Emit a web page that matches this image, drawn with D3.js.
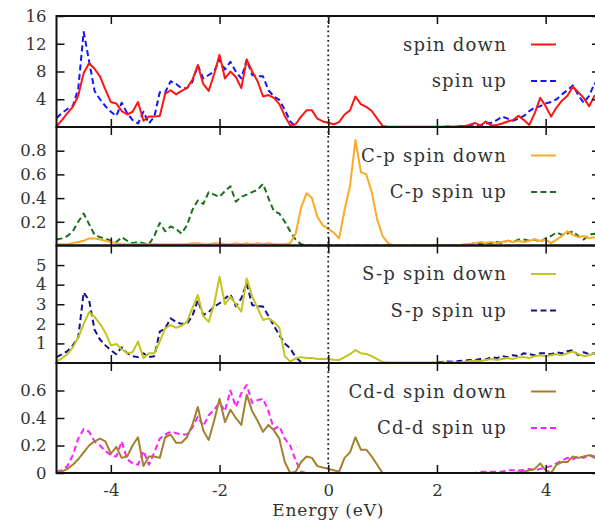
<!DOCTYPE html>
<html>
<head>
<meta charset="utf-8">
<script src="https://cdn.jsdelivr.net/npm/d3@7"></script>
<style>
  body { margin: 0; background: #fff; }
  svg text { font-family: "DejaVu Serif", serif; fill: #333; }
  .legend text { letter-spacing: 1.2px; }
</style>
</head>
<body>
<svg id="chart" width="595" height="524"></svg>
<script>
// energy grid (eV), 0.1 eV step
var energy = d3.range(-50, 51).map(function(i) { return i / 10; });
var xTicks = [-4, -2, 0, 2, 4];

// total DOS
var totDown = [0.1,1.0,2.0,2.9,4.5,7.8,9.2,8.4,7.3,5.4,
  3.6,3.4,2.3,1.8,2.2,3.6,0.9,1.5,1.5,1.6,
  4.8,5.3,4.7,5.2,5.6,6.8,8.9,6.2,5.2,7.6,
  10.4,7.0,8.0,7.2,5.6,9.7,8.0,6.6,4.4,4.6,
  4.2,3.3,1.6,0.2,0.4,1.5,2.4,2.4,1.2,0.8,
  0.6,0.4,0.7,1.8,2.4,4.4,3.3,2.9,2.3,1.2,
  0.15,0.05,0.05,0.05,0.05,0.05,0.05,0.05,0.05,0.05,
  0.05,0.05,0.1,0.05,0.1,0.1,0.3,0.6,0.2,0.8,
  0.2,0.3,0.5,0.8,1.0,1.6,1.0,0.3,2.0,4.2,
  3.0,1.5,2.8,3.8,4.5,5.8,5.0,4.2,3.0,4.5,
  4.0];
var totUp = [1.3,2.0,2.6,3.0,5.5,13.7,9.5,5.2,4.0,3.0,
  2.2,1.6,3.5,2.0,1.0,0.5,2.2,0.5,1.5,5.0,
  5.0,6.6,6.2,5.6,5.6,6.5,8.9,7.0,7.5,8.0,
  9.7,8.3,9.4,8.0,7.0,9.7,7.5,7.3,7.3,5.3,
  4.4,3.9,2.5,0.8,0.1,0,0,0,0,0,
  0,0,0,0,0,0,0,0,0,0,
  0,0,0,0,0,0,0,0,0,0,
  0,0,0,0,0.1,0.1,0.3,0.4,0.2,0.5,
  0.6,1.0,1.5,1.2,0.9,1.2,1.6,2.3,2.8,3.0,
  3.4,3.6,4.0,4.7,5.3,6.0,4.6,3.5,4.5,6.3,
  5.5];

// C-p
var cpDown = [0.01,0.01,0.01,0.02,0.03,0.04,0.06,0.06,0.05,0.04,
  0.03,0.02,0.01,0.01,0.01,0.01,0.01,0.01,0.01,0.01,
  0.01,0.01,0.01,0.01,0.01,0.02,0.02,0.01,0.01,0.02,
  0.02,0.01,0.01,0.02,0.01,0.02,0.01,0.02,0.01,0.02,
  0.01,0.01,0.01,0.02,0.1,0.32,0.44,0.4,0.24,0.17,
  0.14,0.11,0.06,0.3,0.5,0.89,0.62,0.6,0.45,0.22,
  0.08,0.02,0,0,0,0,0,0,0,0,
  0,0,0,0,0,0.01,0.01,0.02,0.03,0.02,
  0.03,0.02,0.03,0.04,0.03,0.04,0.03,0.04,0.05,0.04,
  0.05,0.02,0.05,0.08,0.12,0.09,0.07,0.08,0.06,0.07,
  0.06];
var cpUp = [0.05,0.06,0.08,0.12,0.2,0.27,0.18,0.09,0.07,0.06,
  0.04,0.03,0.07,0.04,0.02,0.03,0.02,0.01,0.08,0.19,
  0.12,0.16,0.14,0.1,0.17,0.3,0.38,0.35,0.45,0.43,
  0.41,0.46,0.5,0.37,0.41,0.43,0.45,0.47,0.52,0.4,
  0.29,0.27,0.2,0.12,0.05,0.01,0,0,0,0,
  0,0,0,0,0,0,0,0,0,0,
  0,0,0,0,0,0,0,0,0,0,
  0,0,0,0,0,0,0.01,0.02,0.01,0.02,
  0.02,0.03,0.02,0.04,0.03,0.05,0.05,0.04,0.05,0.03,
  0.06,0.08,0.11,0.09,0.1,0.12,0.08,0.05,0.09,0.1,
  0.08];

// S-p
var spDown = [0.07,0.25,0.45,0.8,1.3,2.0,2.6,2.35,2.0,1.55,
  0.9,0.97,0.7,0.5,0.55,1.09,0.24,0.5,0.5,1.1,
  1.77,1.94,1.8,1.9,2.1,2.8,3.47,2.4,2.1,3.0,
  4.4,3.0,3.39,3.0,2.62,4.32,3.4,2.8,2.2,2.28,
  2.1,1.8,0.35,0.07,0.24,0.3,0.25,0.25,0.2,0.2,
  0.2,0.17,0.15,0.3,0.45,0.66,0.5,0.46,0.35,0.2,
  0.05,0.02,0.02,0.02,0.02,0.02,0.02,0.02,0.02,0.02,
  0.02,0.02,0.02,0.02,0.02,0.05,0.1,0.12,0.1,0.15,
  0.2,0.15,0.2,0.25,0.2,0.3,0.3,0.25,0.35,0.4,
  0.35,0.4,0.45,0.4,0.5,0.58,0.45,0.35,0.4,0.5,
  0.45];
var spUp = [0.3,0.45,0.6,0.9,1.3,3.6,3.2,1.7,1.2,0.9,
  0.65,0.45,0.8,0.5,0.35,0.3,0.5,0.3,0.35,1.6,
  1.77,2.28,2.1,2.0,2.0,2.4,3.2,2.45,2.6,2.88,
  3.05,3.3,3.5,2.9,3.3,4.07,2.96,2.9,2.88,2.4,
  1.9,1.43,1.0,0.75,0.3,0.05,0,0,0,0,
  0,0,0,0,0,0,0,0,0,0,
  0,0,0,0,0,0,0,0,0,0,
  0.05,0.06,0.08,0.06,0.1,0.12,0.15,0.15,0.2,0.18,
  0.3,0.25,0.35,0.3,0.4,0.35,0.5,0.45,0.4,0.5,
  0.5,0.45,0.55,0.5,0.6,0.66,0.4,0.55,0.45,0.5,
  0.4];

// Cd-d
var cddDown = [0,0.01,0.03,0.06,0.1,0.15,0.2,0.23,0.25,0.23,
  0.14,0.19,0.11,0.12,0.2,0.26,0.05,0.12,0.12,0.11,
  0.26,0.28,0.22,0.22,0.26,0.35,0.48,0.31,0.24,0.38,
  0.54,0.37,0.46,0.4,0.35,0.57,0.45,0.38,0.3,0.35,
  0.31,0.25,0.08,0,0.01,0.08,0.12,0.11,0.05,0.04,
  0.03,0.02,0.01,0.11,0.15,0.26,0.17,0.17,0.12,0.06,
  0,0,0,0,0,0,0,0,0,0,
  0,0,0,0,0,0,0,0,0,0,
  0,0,0,0,0,0.005,0.01,0.02,0.03,0.07,
  0.02,0,0.06,0.08,0.08,0.12,0.11,0.12,0.13,0.11,
  0.1];
var cddUp = [0.01,0.02,0.05,0.13,0.25,0.32,0.3,0.23,0.2,0.16,
  0.13,0.12,0.23,0.1,0.07,0.06,0.16,0.06,0.15,0.25,
  0.28,0.3,0.29,0.28,0.28,0.33,0.41,0.34,0.42,0.46,
  0.51,0.45,0.6,0.48,0.58,0.64,0.51,0.53,0.54,0.45,
  0.32,0.34,0.25,0.2,0.09,0.01,0,0,0,0,
  0,0,0,0,0,0,0,0,0,0,
  0,0,0,0,0,0,0,0,0,0,
  0,0,0,0,0,0,0,0,0.01,0.01,
  0.01,0.01,0.01,0.02,0.02,0.02,0.02,0.03,0.02,0.03,
  0.04,0.05,0.07,0.09,0.11,0.1,0.12,0.11,0.13,0.12,
  0.11];

var yTicksTot = [4, 8, 12, 16],
    yTicksCp = [0.2, 0.4, 0.6, 0.8],
    yTicksSp = [1, 2, 3, 4, 5],
    yTicksCd = [0, 0.2, 0.4, 0.6];

// plain hyphen minus like the original, not the unicode minus of d3.format
var plain = function(d) { return String(d); };
var serif = '"DejaVu Serif", serif';

var panels = [
  {top: 16, bottom: 127, max: 16, ticks: yTicksTot, series: [
    {label: 'spin down', values: totDown, color: '#ff1414', dash: null},
    {label: 'spin up', values: totUp, color: '#1414ff', dash: '6,3.5'}]},
  {top: 127, bottom: 245.5, max: 1, ticks: yTicksCp, series: [
    {label: 'C-p spin down', values: cpDown, color: '#fbaa26', dash: null},
    {label: 'C-p spin up', values: cpUp, color: '#17701a', dash: '6,3.5'}]},
  {top: 245.5, bottom: 363, max: 6, ticks: yTicksSp, series: [
    {label: 'S-p spin down', values: spDown, color: '#c4c41e', dash: null},
    {label: 'S-p spin up', values: spUp, color: '#12128c', dash: '6,3.5'}]},
  {top: 363, bottom: 473, max: 0.8, ticks: yTicksCd, series: [
    {label: 'Cd-d spin down', values: cddDown, color: '#a2802c', dash: null},
    {label: 'Cd-d spin up', values: cddUp, color: '#ff1cff', dash: '6,3.5'}]}
];

var svg = d3.select('#chart'),
    left = 56.5,
    right = 600,
    tickLen = 8;

var x = d3.scaleLinear().domain([-5, 5]).range([left, right]);

panels.forEach(function(p, k) {
  var y = d3.scaleLinear().domain([0, p.max]).range([p.bottom, p.top]);
  var g = svg.append('g');

  g.append('clipPath').attr('id', 'clip' + k)
    .append('rect')
    .attr('x', left).attr('y', p.top)
    .attr('width', right - left).attr('height', p.bottom - p.top);

  var line = d3.line()
    .x(function(d, i) { return x(energy[i]); })
    .y(function(d) { return y(d); });

  // spin up first so the solid spin down sits on top
  p.series.slice().reverse().forEach(function(s) {
    g.append('path')
      .datum(s.values)
      .attr('clip-path', 'url(#clip' + k + ')')
      .attr('fill', 'none')
      .attr('stroke', s.color)
      .attr('stroke-width', 2)
      .attr('stroke-linejoin', 'round')
      .attr('stroke-dasharray', s.dash)
      .attr('d', line);
  });

  // axes, ticks pointing inward
  var axL = g.append('g').attr('transform', 'translate(' + left + ',0)')
    .call(d3.axisLeft(y).tickValues(p.ticks).tickSize(-tickLen).tickPadding(10).tickFormat(plain));
  var axR = g.append('g').attr('transform', 'translate(' + right + ',0)')
    .call(d3.axisRight(y).tickValues(p.ticks).tickSize(-tickLen).tickFormat(''));
  var axT = g.append('g').attr('transform', 'translate(0,' + p.top + ')')
    .call(d3.axisTop(x).tickValues(xTicks).tickSize(-tickLen).tickFormat(''));
  var axB = g.append('g').attr('transform', 'translate(0,' + p.bottom + ')')
    .call(d3.axisBottom(x).tickValues(xTicks).tickSize(-tickLen).tickPadding(11)
      .tickFormat(k === panels.length - 1 ? plain : ''));

  [axL, axR, axT, axB].forEach(function(a) {
    a.attr('font-family', null);
    a.select('.domain').remove();
    a.selectAll('line').attr('stroke', '#111').attr('stroke-width', 1.5);
    a.selectAll('text').attr('fill', '#333')
      .style('font-family', serif)
      .style('font-size', '16.5px');
  });

  g.append('rect')
    .attr('x', left).attr('y', p.top)
    .attr('width', right - left).attr('height', p.bottom - p.top)
    .attr('fill', 'none').attr('stroke', '#111').attr('stroke-width', 2);

  // legend
  var lg = g.append('g').attr('class', 'legend');
  p.series.forEach(function(s, j) {
    var ly = p.top + 28.5 + j * 36.5;
    lg.append('text')
      .attr('x', 507).attr('y', ly)
      .attr('dy', '0.35em')
      .attr('text-anchor', 'end')
      .style('font-family', serif)
      .style('font-size', '18px')
      .text(s.label);
    lg.append('line')
      .attr('x1', 531).attr('x2', 556)
      .attr('y1', ly).attr('y2', ly)
      .attr('stroke', s.color).attr('stroke-width', 2)
      .attr('stroke-dasharray', s.dash);
  });
});

// Fermi level
svg.append('line')
  .attr('x1', x(0)).attr('x2', x(0))
  .attr('y1', panels[0].top).attr('y2', panels[panels.length - 1].bottom)
  .attr('stroke', '#222').attr('stroke-width', 1.8)
  .attr('stroke-dasharray', '1.8,3');

svg.append('text')
  .attr('x', x(0)).attr('y', 516)
  .attr('text-anchor', 'middle')
  .style('font-family', serif)
  .style('font-size', '17px')
  .style('letter-spacing', '0.8px')
  .text('Energy (eV)');
</script>
</body>
</html>
